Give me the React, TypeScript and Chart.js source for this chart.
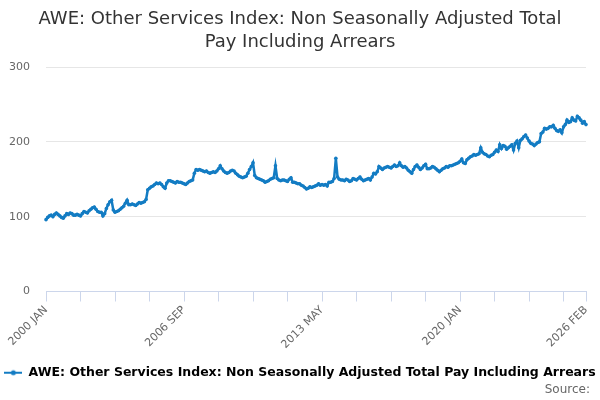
import React, { useEffect, useRef } from 'react';
import { Chart, registerables, type Plugin } from 'chart.js';

Chart.register(...registerables);

const FONT = '"DejaVu Sans", sans-serif';
const LINE_COLOR = '#137cc3';

const TITLE = ['AWE: Other Services Index: Non Seasonally Adjusted Total', 'Pay Including Arrears'];
const SERIES_NAME = 'AWE: Other Services Index: Non Seasonally Adjusted Total Pay Including Arrears';
const SOURCE = 'Source:';

const MONTHS = ['JAN', 'FEB', 'MAR', 'APR', 'MAY', 'JUN', 'JUL', 'AUG', 'SEP', 'OCT', 'NOV', 'DEC'];
const FIRST_YEAR = 2000;

// one row per year, 2000 JAN .. 2026 FEB
const INDEX_VALUES = [
  96, 99, 101, 102, 100, 103, 105, 103, 101, 99, 98, 101,
  104, 103, 105, 104, 102, 102, 103, 102, 101, 104, 107, 106,
  105, 108, 110, 112, 113, 110, 107, 106, 106, 101, 104, 111,
  116, 120, 122, 109, 106, 107, 108, 110, 112, 114, 118, 122,
  116, 116, 117, 116, 115, 117, 119, 118, 119, 120, 123, 136,
  138, 140, 141, 143, 145, 144, 145, 143, 140, 138, 145, 148,
  148, 147, 146, 145, 147, 146, 146, 145, 144, 143, 145, 147,
  148, 149, 158, 163, 162, 163, 162, 161, 160, 161, 159, 158,
  159, 160, 159, 161, 164, 168, 164, 161, 159, 158, 159, 161,
  162, 161, 158, 156, 154, 153, 152, 153, 154, 158, 163, 167,
  172, 155, 152, 151, 150, 149, 148, 146, 147, 148, 150, 151,
  152, 168, 151, 149, 148, 149, 149, 148, 147, 150, 152, 146,
  146, 145, 144, 144, 142, 141, 139, 137, 138, 140, 139, 140,
  141, 142, 144, 142, 143, 142, 143, 141, 146, 146, 147, 151,
  178, 153, 150, 149, 149, 148, 150, 149, 147, 148, 151, 150,
  149, 151, 153, 150, 148, 149, 150, 151, 149, 153, 158, 157,
  160, 167, 165, 163, 165, 166, 167, 166, 165, 167, 169, 167,
  168, 172, 168, 166, 167, 165, 162, 160, 158, 163, 167, 169,
  166, 163, 165, 168, 170, 164, 164, 165, 167, 166, 164, 162,
  160, 162, 164, 165, 167, 166, 168, 168, 169, 170, 171, 172,
  174, 177, 172, 171, 176, 178, 180, 181, 183, 182, 183, 184,
  192, 186, 184, 183, 181, 180, 182, 183, 186, 189, 187, 196,
  191, 195, 194, 190, 192, 194, 196, 189, 198, 201, 192, 202,
  204, 207, 209, 205, 201, 198, 197, 195, 197, 199, 200, 211,
  213, 218, 217, 218, 220, 220, 222, 218, 215, 214, 216, 212,
  220, 223, 229, 226, 227, 232, 229, 228, 234, 232, 229, 225,
  227, 223,
];

const LABELS = INDEX_VALUES.map((_, i) => `${FIRST_YEAR + Math.floor(i / 12)} ${MONTHS[i % 12]}`);
const X_TICK_EVERY = 20;
const X_TICK_LABELS = ['2000 JAN', '2006 SEP', '2013 MAY', '2020 JAN', '2026 FEB'];
const Y_TICKS = [0, 100, 200, 300];

const isXTick = (i: number) => i % X_TICK_EVERY === 0 || i === LABELS.length - 1;

function legendIcon() {
  const c = document.createElement('canvas');
  c.width = 18;
  c.height = 8;
  const g = c.getContext('2d')!;
  g.strokeStyle = LINE_COLOR;
  g.lineWidth = 2;
  g.beginPath();
  g.moveTo(0, 4);
  g.lineTo(18, 4);
  g.stroke();
  g.fillStyle = LINE_COLOR;
  g.beginPath();
  g.arc(9, 4, 2.5, 0, Math.PI * 2);
  g.fill();
  return c;
}

const sourcePlugin: Plugin = {
  id: 'sourceText',
  afterDraw(chart) {
    const { ctx, width } = chart;
    ctx.save();
    ctx.font = `12px ${FONT}`;
    ctx.fillStyle = '#666666';
    ctx.textAlign = 'right';
    ctx.textBaseline = 'middle';
    ctx.fillText(SOURCE, width - 10, 390);
    ctx.restore();
  },
};

export default function App() {
  const canvasRef = useRef<HTMLCanvasElement>(null);

  useEffect(() => {
    if (!canvasRef.current) return;
    const icon = legendIcon();

    const chart = new Chart(canvasRef.current, {
      type: 'line',
      data: {
        labels: LABELS,
        datasets: [{
          label: SERIES_NAME,
          data: INDEX_VALUES,
          borderColor: LINE_COLOR,
          backgroundColor: LINE_COLOR,
          borderWidth: 2.5,
          pointRadius: 1.8,
          pointBorderWidth: 0,
          pointBackgroundColor: LINE_COLOR,
          tension: 0,
        }],
      },
      options: {
        responsive: true,
        maintainAspectRatio: false,
        animation: false,
        layout: { padding: { left: 0, right: 0, top: 0, bottom: 11 } },
        plugins: {
          title: {
            display: true,
            text: TITLE,
            color: '#333333',
            font: { family: FONT, size: 18, weight: 'normal', lineHeight: 23 / 18 },
            padding: { top: 8, bottom: 13 },
          },
          legend: {
            position: 'bottom',
            labels: {
              usePointStyle: true,
              pointStyleWidth: 18,
              padding: 17,
              color: '#333333',
              font: { family: FONT, size: 12.5, weight: 'bold' },
              generateLabels: () => [{
                text: SERIES_NAME,
                pointStyle: icon,
                fillStyle: LINE_COLOR,
                strokeStyle: LINE_COLOR,
                lineWidth: 0,
                hidden: false,
                datasetIndex: 0,
              }],
            },
          },
          tooltip: { enabled: false },
        },
        scales: {
          x: {
            type: 'category',
            offset: false,
            grid: {
              drawOnChartArea: false,
              drawTicks: true,
              tickLength: 10,
              offset: false,
              color: ctx => (isXTick(ctx.index) ? '#ccd6eb' : 'rgba(0,0,0,0)'),
            },
            border: { color: '#ccd6eb', width: 1 },
            ticks: {
              autoSkip: false,
              minRotation: 45,
              maxRotation: 45,
              padding: 2,
              color: '#666666',
              font: { family: FONT, size: 11 },
              callback: (_v, i) => (X_TICK_LABELS.includes(LABELS[i]) ? LABELS[i] : ''),
            },
            afterFit: s => { s.height = 58; },
          },
          y: {
            min: Y_TICKS[0],
            max: Y_TICKS[Y_TICKS.length - 1],
            afterBuildTicks: s => { s.ticks = Y_TICKS.map(v => ({ value: v })); },
            grid: {
              drawTicks: false,
              color: ctx => (ctx.tick && ctx.tick.value === 0 ? '#ccd6eb' : '#e6e6e6'),
            },
            border: { display: false },
            ticks: { padding: 16, color: '#666666', font: { family: FONT, size: 11 } },
            afterFit: s => { s.width = 46; },
          },
          // empty right-hand axis: keeps the plot clear of the right edge
          yRight: {
            position: 'right',
            grid: { display: false },
            border: { display: false },
            ticks: { display: false },
            afterFit: s => { s.width = 14; },
          },
        },
      },
      plugins: [sourcePlugin],
    });

    return () => chart.destroy();
  }, []);

  return (
    <div style={{ position: 'fixed', left: 0, top: 0, width: 600, height: 400, background: '#fff' }}>
      <canvas ref={canvasRef} />
    </div>
  );
}
